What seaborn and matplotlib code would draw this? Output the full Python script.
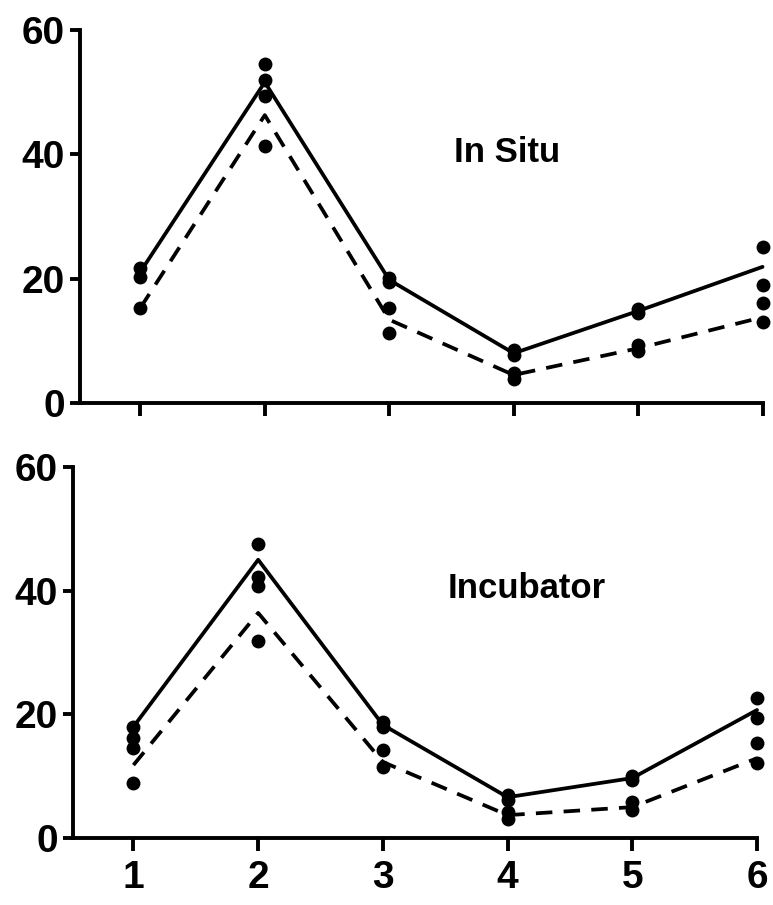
import matplotlib
matplotlib.use("Agg")
import matplotlib.pyplot as plt
import seaborn as sns
import pandas as pd
import numpy as np

sns.set_theme(style="white")
plt.rcParams['font.family'] = ['Liberation Sans', 'DejaVu Sans']
plt.rcParams['font.weight'] = 'bold'

stations = [1, 2, 3, 4, 5, 6]

# In Situ panel
insitu_solid_mean = [21.1, 51.6, 19.8, 8.0, 14.8, 21.9]
insitu_dashed_mean = [15.3, 46.3, 13.4, 4.5, 8.8, 13.8]
insitu_dot_x = [1, 1, 1, 2, 2, 2, 2, 3, 3, 3, 3, 4, 4, 4, 4, 5, 5, 5, 5, 6, 6, 6, 6]
insitu_dot_y = [21.7, 20.3, 15.3, 54.5, 52.0, 49.4, 41.3, 20.1, 19.5, 15.3, 11.3,
                8.5, 7.7, 4.8, 3.9, 15.1, 14.5, 9.3, 8.4, 25.1, 19.0, 16.1, 13.0]

# Incubator panel
incub_solid_mean = [18.0, 45.0, 18.3, 6.6, 9.7, 20.7]
incub_dashed_mean = [11.8, 36.4, 12.3, 3.7, 5.0, 12.9]
incub_dot_x = [1, 1, 1, 1, 2, 2, 2, 2, 3, 3, 3, 3, 4, 4, 4, 4, 5, 5, 5, 5, 6, 6, 6, 6]
incub_dot_y = [18.0, 16.2, 14.6, 8.9, 47.6, 42.2, 40.8, 31.9, 18.8, 18.0, 14.2, 11.5,
               7.0, 6.2, 4.2, 3.1, 10.0, 9.4, 5.8, 4.5, 22.7, 19.4, 15.4, 12.1]

panel_labels = ["In Situ", "Incubator"]
y_ticks = [0, 20, 40, 60]

fig = plt.figure(figsize=(7.73, 9.05), dpi=100)
ax_top = fig.add_axes([0.1035, 0.5547, 0.9865 - 0.1035, 0.9669 - 0.5547])
ax_bot = fig.add_axes([0.0944, 0.0740, 0.9793 - 0.0944, 0.4840 - 0.0740])

panels = [
    (ax_top, insitu_solid_mean, insitu_dashed_mean, insitu_dot_x, insitu_dot_y, panel_labels[0], False),
    (ax_bot, incub_solid_mean, incub_dashed_mean, incub_dot_x, incub_dot_y, panel_labels[1], True),
]

for ax, solid, dashed, dx, dy, label, show_x in panels:
    lines = pd.DataFrame({
        "station": stations * 2,
        "value": solid + dashed,
        "series": ["solid"] * 6 + ["dashed"] * 6,
    })
    sns.lineplot(data=lines, x="station", y="value", style="series",
                 dashes={"solid": "", "dashed": (4.4, 3.0)},
                 color="black", linewidth=2.7, ax=ax, legend=False,
                 estimator=None, sort=False)
    for ln in ax.lines:
        ln.set_clip_on(False)
        ln.set_linewidth(2.7)
    dots = pd.DataFrame({"station": dx, "value": dy})
    sns.scatterplot(data=dots, x="station", y="value", color="black", s=100,
                    edgecolor="black", linewidth=0, ax=ax, legend=False,
                    clip_on=False, zorder=5)

    ax.set_xlim(0.515, 6.0)
    ax.set_ylim(0, 60)
    ax.set_yticks(y_ticks)
    ax.set_xticks(stations)
    ax.set_xlabel("")
    ax.set_ylabel("")
    sns.despine(ax=ax)
    for side in ["left", "bottom"]:
        ax.spines[side].set_linewidth(2.8)
        ax.spines[side].set_color("black")
        ax.spines[side].set_capstyle("projecting")
    ax.tick_params(axis="y", direction="out", length=7, width=2.8, pad=4,
                   labelsize=28, colors="black", left=True)
    ax.tick_params(axis="x", direction="out", length=9, width=2.8, pad=7,
                   labelsize=28, colors="black", bottom=True, labelbottom=show_x)
    for t in ax.get_xticklabels() + ax.get_yticklabels():
        t.set_fontweight("bold")
    ax.text(3.52, 38.8, label, ha="left", va="baseline", fontsize=25,
            fontweight="bold", color="black")

fig.savefig("out.png", dpi=100, facecolor="white")
